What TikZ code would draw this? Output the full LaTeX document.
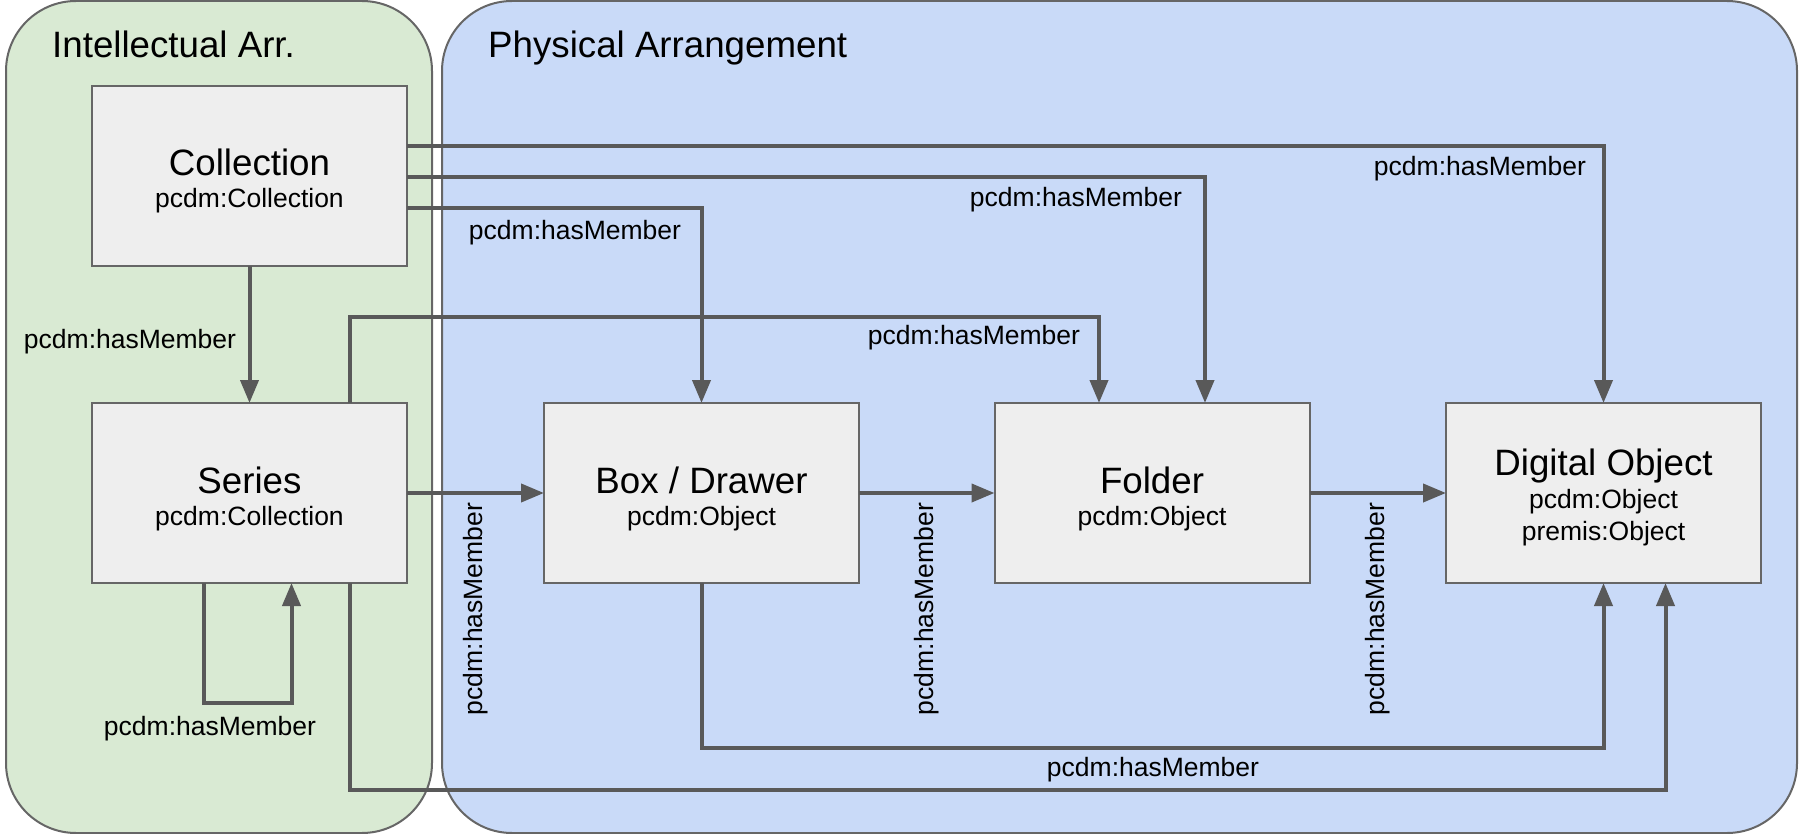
\documentclass[tikz,border=0pt]{standalone}
\usepackage{fontspec}
\setmainfont{Liberation Sans}
\usetikzlibrary{arrows.meta}
\definecolor{greenfill}{HTML}{D9EAD3}
\definecolor{bluefill}{HTML}{C9DAF8}
\definecolor{boxfill}{HTML}{EEEEEE}
\definecolor{edgegray}{HTML}{666666}
\definecolor{linegray}{HTML}{595959}
\begin{document}
\begin{tikzpicture}[x=1pt,y=-1pt,
  panel/.style={draw=edgegray, line width=2pt, rounded corners=70pt},
  box/.style={draw=edgegray, fill=boxfill, line width=2pt, minimum width=315pt, minimum height=180pt, inner sep=0pt, outer sep=0pt},
  bigtxt/.style={inner sep=0pt, anchor=base, font=\fontsize{36.7pt}{40pt}\selectfont},
  smalltxt/.style={inner sep=0pt, anchor=base, font=\fontsize{26.5pt}{30pt}\selectfont},
  lbl/.style={inner sep=0pt, anchor=center, font=\fontsize{26.5pt}{30pt}\selectfont},
  conn/.style={draw=linegray, line width=4pt},
  arr/.style={conn, -{Triangle[length=23pt,width=18pt]}}
]
\useasboundingbox (0,0) rectangle (1799,834);
% panels
\path[panel, fill=greenfill] (6,1) rectangle (432,833);
\path[panel, fill=bluefill] (442,1) rectangle (1797,833);
\node[bigtxt, anchor=base west] (tIA) at (52,58) {Intellectual Arr.};
\node[bigtxt, anchor=base west] (tPA) at (488,58) {Physical Arrangement};
% boxes
\node[box] (col) at (249.5,176) {};
\node[box] (ser) at (249.5,493) {};
\node[box] (box) at (701.5,493) {};
\node[box] (fol) at (1152,493) {};
\node[box] (dig) at (1603.5,493) {};
% box texts
\node[bigtxt] (colT) at (249.5,176) {Collection};
\node[smalltxt] (colS) at (249.5,208) {pcdm:Collection};
\node[bigtxt] (serT) at (249.5,493) {Series};
\node[smalltxt] (serS) at (249.5,525) {pcdm:Collection};
\node[bigtxt] (boxT) at (701.5,493) {Box / Drawer};
\node[smalltxt] (boxS) at (701.5,525) {pcdm:Object};
\node[bigtxt] (folT) at (1152,493) {Folder};
\node[smalltxt] (folS) at (1152,525) {pcdm:Object};
\node[bigtxt] (digT) at (1603.5,475) {Digital Object};
\node[smalltxt] (digS1) at (1603.5,508) {pcdm:Object};
\node[smalltxt] (digS2) at (1603.5,540) {premis:Object};
% connectors
\draw[arr] (col.south) -- (ser.north);
\draw[arr] ([yshift=30pt]col.east) -| (dig.north);
\draw[arr] ([yshift=-1pt]col.east) -| ([xshift=53pt]fol.north);
\draw[arr] ([yshift=-32pt]col.east) -| (box.north);
\draw[arr] ([xshift=100pt]ser.north) -- ++(0,-86) -| ([xshift=-53pt]fol.north);
\draw[arr] (ser.east) -- (box.west);
\draw[arr] (box.east) -- (fol.west);
\draw[arr] (fol.east) -- (dig.west);
\draw[arr] ([xshift=-46pt]ser.south) -- ++(0,120) -| ([xshift=42pt]ser.south);
\draw[arr] (box.south) -- ++(0,165) -| (dig.south);
\draw[arr] ([xshift=100pt]ser.south) -- ++(0,207) -| ([xshift=62pt]dig.south);
% labels
\node[lbl] (l1) at (130,342) {pcdm:hasMember};
\node[lbl] (l2) at (1480,169) {pcdm:hasMember};
\node[lbl] (l3) at (1076,200) {pcdm:hasMember};
\node[lbl] (l4) at (575,233) {pcdm:hasMember};
\node[lbl] (l5) at (974,338) {pcdm:hasMember};
\node[lbl] (l6) at (210,729) {pcdm:hasMember};
\node[lbl] (l7) at (1153,770) {pcdm:hasMember};
\node[lbl, rotate=90] (r1) at (476,609) {pcdm:hasMember};
\node[lbl, rotate=90] (r2) at (927,609) {pcdm:hasMember};
\node[lbl, rotate=90] (r3) at (1377.5,609) {pcdm:hasMember};
\end{tikzpicture}
\end{document}
